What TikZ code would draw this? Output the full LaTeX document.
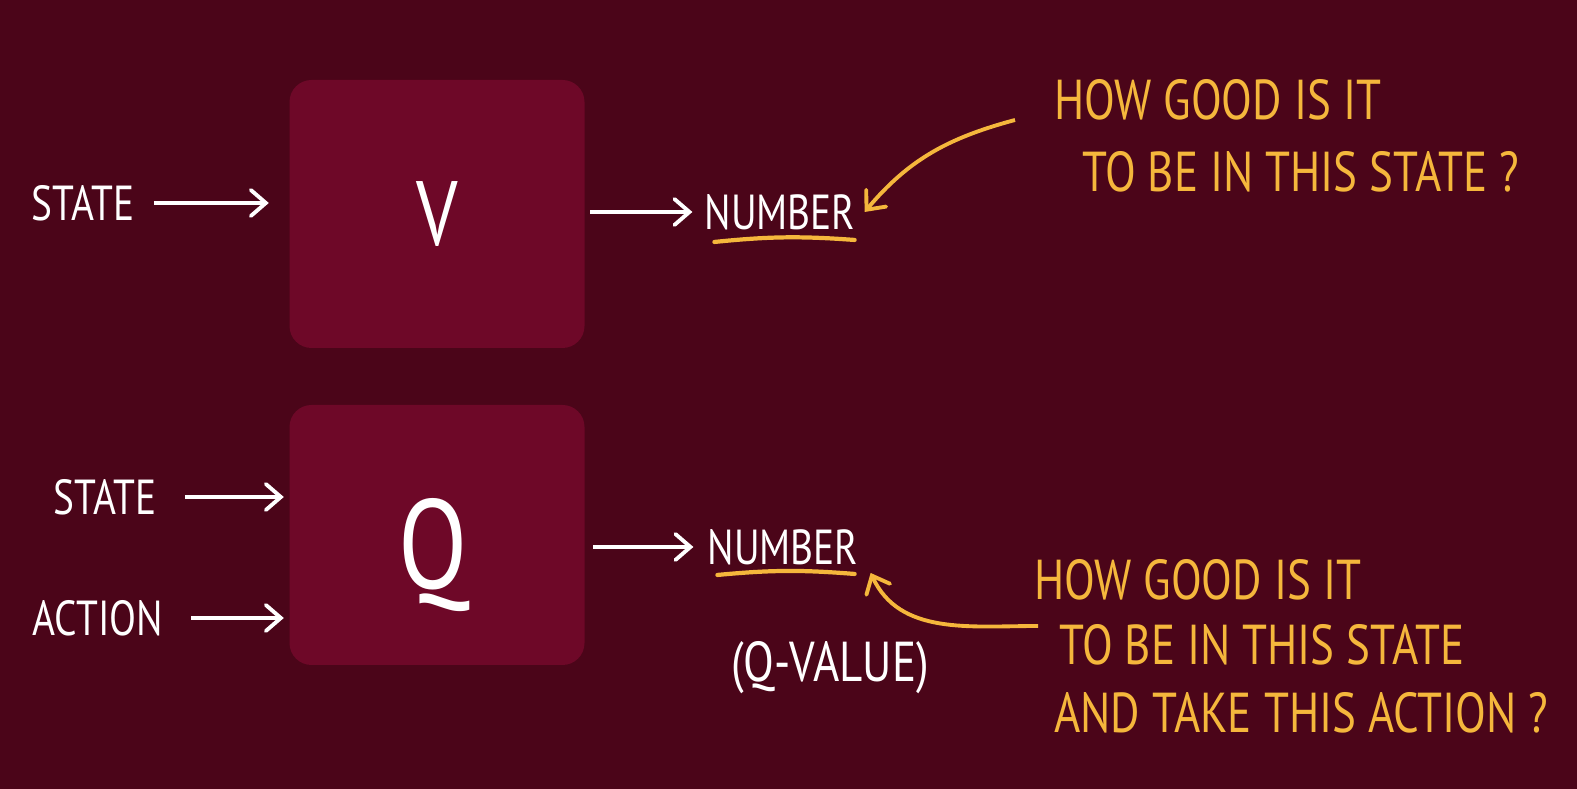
\documentclass[tikz,border=0pt]{standalone}
\usepackage{fontspec}
\newfontfamily\handfont[FakeStretch=0.8]{PT Sans}
\usetikzlibrary{arrows.meta}
\definecolor{bgred}{HTML}{4B0519}
\definecolor{boxred}{HTML}{6E0828}
\definecolor{chalkyellow}{HTML}{F5B73C}
\tikzset{
  fnbox/.style={fill=boxred, rounded corners=0.22cm, minimum width=2.95cm, minimum height=2.68cm, inner sep=0pt},
  chalk/.style={text=white, font=\handfont\fontsize{14}{14}\selectfont, inner sep=1pt},
  remark/.style={text=chalkyellow, font=\handfont\fontsize{16}{16}\selectfont, inner sep=1pt, anchor=west},
  wire/.style={white, line width=1.1pt, ->},
  pointer/.style={chalkyellow, line width=1.1pt, ->},
  numline/.style={chalkyellow, line width=1.2pt, line cap=round},
}

\begin{document}
\begin{tikzpicture}[>={Straight Barb[length=1.5mm,width=2.6mm,line cap=round]}]
\fill[bgred] (0,0) rectangle (15.77,7.89);
\node[fnbox, text=white, font=\handfont\fontsize{26}{26}\selectfont] (vbox) at (4.37,5.75) {V};
\node[fnbox, minimum height=2.6cm] (qbox) at (4.37,2.54) {};
\node[text=white, font=\handfont\fontsize{36}{36}\selectfont] (qname) at (4.33,2.34) {Q};
\node[chalk] (stv) at (0.83,5.86) {STATE};
\node[chalk] (numv) at (7.80,5.77) {NUMBER};
\node[chalk] (stq) at (1.05,2.92) {STATE};
\node[chalk] (actq) at (0.98,1.71) {ACTION};
\node[chalk] (numq) at (7.83,2.42) {NUMBER};
\node[chalk, font=\handfont\fontsize{16}{16}\selectfont] (qval) at (8.30,1.21) {(Q-VALUE)};
\node[remark] (vq1) at (10.50,6.89) {HOW GOOD IS IT};
\node[remark] (vq2) at (10.78,6.17) {TO BE IN THIS STATE ?};
\node[remark] (qq1) at (10.30,2.09) {HOW GOOD IS IT};
\node[remark] (qq2) at (10.55,1.44) {TO BE IN THIS STATE};
\node[remark] (qq3) at (10.50,0.76) {AND TAKE THIS ACTION ?};
\coordinate (vtail) at (10.15,6.69);
\coordinate (qtail) at (10.38,1.63);
\draw[wire, shorten <=0.15cm, shorten >=0.2cm] (stv.east) -- (stv.east -| vbox.west);
\draw[wire, shorten <=0.05cm, shorten >=0.08cm] (numv.west -| vbox.east) -- (numv.west);
\draw[wire, shorten <=0.24cm, shorten >=0.05cm] (stq.east) -- (stq.east -| qbox.west);
\draw[wire, shorten <=0.24cm, shorten >=0.05cm] (actq.east) -- (actq.east -| qbox.west);
\draw[wire, shorten <=0.08cm, shorten >=0.1cm] (numq.west -| qbox.east) -- (numq.west);
\draw[numline] ([xshift=0.14cm,yshift=-0.08cm]numv.south west) to[bend left=5] ([xshift=-0.05cm,yshift=-0.06cm]numv.south east);
\draw[numline] ([xshift=0.14cm,yshift=-0.06cm]numq.south west) to[bend left=5] ([xshift=-0.08cm,yshift=-0.05cm]numq.south east);
\draw[pointer] (vtail) to[out=195,in=50] ([xshift=0.05cm]numv.east);
\draw[pointer] (qtail) to[out=180,in=-65] ([xshift=0.08cm,yshift=-0.04cm]numq.south east);
\end{tikzpicture}
\end{document}
